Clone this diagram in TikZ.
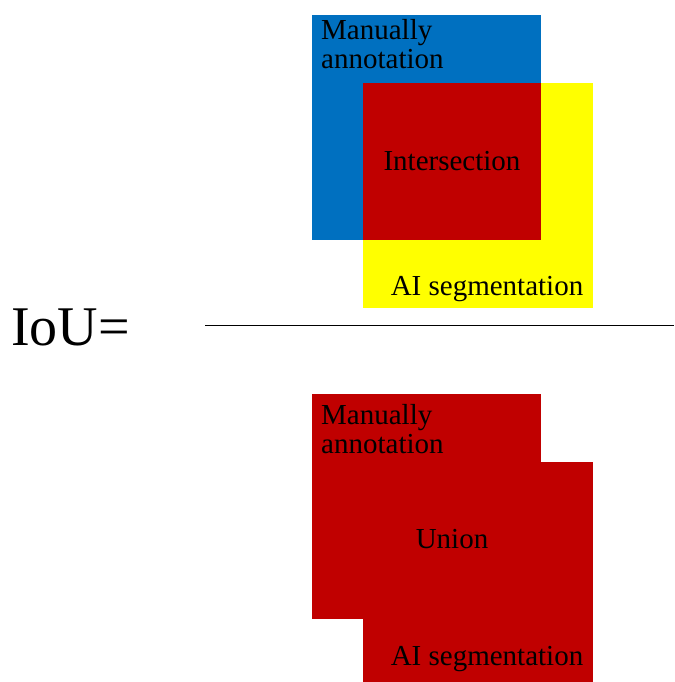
\documentclass[tikz,border=0pt]{standalone}
\usepackage{fontspec}
\setmainfont{Liberation Serif}
\usepackage{xcolor}
\usepackage{tikz}
\usetikzlibrary{positioning}
\definecolor{annoblue}{HTML}{0070C0}
\definecolor{segyellow}{HTML}{FFFF00}
\definecolor{hitred}{HTML}{C00000}

\begin{document}
\begin{tikzpicture}[x=1pt, y=-1pt,
    region/.style={rectangle, inner sep=0pt, outer sep=0pt, anchor=north west},
    txt/.style={font=\fontsize{29}{29.5}\selectfont, text=black, inner sep=0pt}
]
\useasboundingbox (0,0) rectangle (674,682);

% numerator
\node[region, fill=segyellow, minimum width=230pt, minimum height=225pt] (seg) at (363,83) {};
\node[region, fill=annoblue, minimum width=229pt, minimum height=225pt] (anno) at (312,15) {};
\node[region, fill=hitred, minimum width=178pt, minimum height=157pt] (inter) at (363,83) {};

\node[txt, anchor=north west, align=left] (annotxt) at (321,19) {Manually\\annotation};
\node[txt] (intertxt) at (452,161) {Intersection};
\node[txt, anchor=base] (segtxt) at (487,295) {AI segmentation};

% fraction bar
\node[font=\fontsize{56}{60}\selectfont, inner sep=0pt, anchor=base west] (iou) at (11,345) {IoU=};
\coordinate (barL) at (205,325);
\coordinate (barR) at (674,325);
\draw[line width=1pt] (barL) -- (barR);

% denominator
\node[region, fill=hitred, minimum width=229pt, minimum height=225pt] (annoU) at (312,394) {};
\node[region, fill=hitred, minimum width=230pt, minimum height=220pt] (segU) at (363,462) {};

\node[txt, anchor=north west, align=left] (annotxtU) at (321,404) {Manually\\annotation};
\node[txt] (uniontxt) at (452,539) {Union};
\node[txt, anchor=base] (segtxtU) at (487,665) {AI segmentation};

\end{tikzpicture}
\end{document}
